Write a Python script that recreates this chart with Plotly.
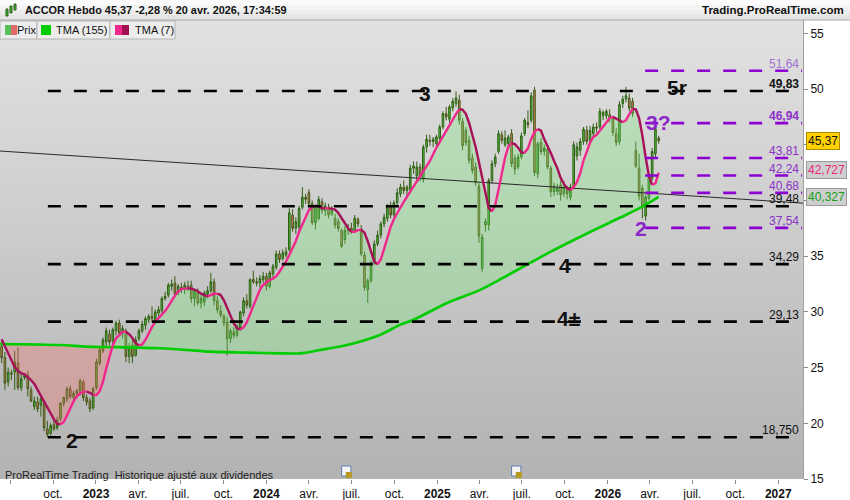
import plotly.graph_objects as go
import pandas as pd

# ---------------- data ----------------
first_week = "2022-06-13"
warmup_close = [29.0, 28.6, 28.0, 27.6, 27.0, 26.6]

open_ = [26.9,25.9,23.7,24.4,24.6,25.4,23.2,24.1,24.3,23.0,21.5,21.9,21.6,21.8,19.5,19.1,19.9,19.6,20.4,21.8,
         22.2,23.1,22.3,22.7,22.9,23.7,22.3,22.0,21.4,23.2,25.4,26.5,27.3,28.0,27.4,28.3,29.0,28.1,28.3,26.0,
         27.0,26.1,27.6,28.3,28.8,29.3,29.6,29.3,29.9,30.1,31.2,31.5,32.3,32.6,31.7,32.2,32.0,32.3,32.4,31.2,
         31.8,30.8,30.9,31.6,31.9,32.7,31.0,30.1,29.6,29.1,27.6,28.2,27.9,28.6,29.9,31.0,30.5,32.9,32.7,32.6,
         32.9,33.2,32.3,33.4,34.0,35.2,34.8,35.1,35.6,38.7,37.5,37.6,39.4,40.3,40.7,39.7,38.0,38.4,39.9,39.1,
         39.3,38.8,38.4,38.1,37.3,36.5,37.3,37.5,37.3,38.3,37.4,35.1,32.0,32.8,34.4,36.1,36.9,37.9,38.4,39.4,
         38.7,39.8,40.6,41.2,40.9,41.0,42.9,42.2,43.0,41.9,44.8,45.4,45.3,45.1,45.6,46.6,47.8,47.3,48.3,48.7,
         49.0,47.1,46.3,45.4,43.8,43.0,41.3,33.9,37.8,37.8,41.8,43.3,44.4,45.9,45.0,45.1,46.0,43.8,43.0,43.9,
         46.0,47.0,47.2,49.9,42.4,45.2,44.4,44.6,42.9,40.8,40.8,41.4,40.6,41.0,40.3,41.2,44.0,44.5,45.3,46.3,
         45.4,46.0,46.6,46.6,47.6,47.6,47.7,47.4,46.0,45.3,48.7,49.1,49.2,48.9,44.5,42.9,41.1,38.6,40.2,42.0,
         44.2,45.6]
high_ = [27.4,26.4,25.0,24.8,26.5,26.8,24.6,24.5,24.7,23.3,22.4,22.4,22.5,22.0,20.2,20.0,20.3,20.6,21.9,22.4,
         23.3,23.4,22.9,23.1,24.0,23.9,22.6,22.3,23.3,25.8,26.8,27.7,28.6,28.4,28.6,29.2,29.3,28.8,28.5,27.2,
         27.5,27.8,28.5,29.2,29.6,29.8,30.5,30.2,30.5,31.4,31.8,32.6,32.9,33.2,32.5,32.6,32.7,32.8,32.8,32.0,
         32.1,31.5,31.9,32.3,33.5,33.0,31.4,30.6,29.8,29.5,28.5,28.6,28.9,30.1,31.3,31.6,33.0,33.7,33.1,33.3,
         33.6,33.5,33.7,34.3,35.5,35.5,35.6,35.8,39.3,39.2,38.5,39.5,41.2,40.6,41.0,40.0,39.6,40.4,40.2,39.8,
         39.7,39.5,38.8,38.4,37.5,37.7,37.9,38.0,38.7,38.5,37.8,35.4,33.0,34.6,36.4,37.3,38.1,38.8,39.7,39.9,
         40.0,41.1,41.5,41.8,41.4,43.2,43.5,43.5,43.3,45.0,45.9,45.9,45.7,45.9,46.8,48.0,48.4,48.6,49.2,49.8,
         49.5,47.4,46.6,45.8,44.2,43.4,41.6,37.0,38.4,42.0,43.6,44.2,46.3,46.2,46.3,45.9,46.4,44.1,44.2,46.1,
         47.4,48.1,49.7,50.2,45.3,45.6,45.0,44.9,43.1,41.6,41.5,41.8,41.7,41.3,41.5,45.3,45.2,45.6,46.6,46.7,
         46.7,46.9,47.0,48.3,48.1,48.2,48.2,47.6,46.5,48.9,49.4,50.2,49.6,49.2,45.3,44.2,41.4,40.5,42.3,44.7,
         46.5,45.8]
low_ = [25.4,23.0,23.3,23.9,23.0,23.0,22.9,23.9,22.4,21.9,21.2,21.0,20.6,19.3,18.75,18.9,19.3,19.4,20.2,21.5,
        21.9,22.2,21.8,22.3,22.5,22.0,21.6,21.0,21.2,23.0,25.2,26.3,26.9,27.0,27.0,27.9,27.9,27.6,25.5,25.4,
        25.4,26.0,27.4,28.1,28.4,29.0,29.1,28.9,29.6,29.9,31.0,31.3,31.9,31.3,31.5,31.7,31.6,31.9,30.8,30.5,
        30.6,30.3,30.5,31.2,31.7,30.6,29.9,29.5,28.7,26.1,27.2,27.6,27.7,28.3,29.6,30.3,30.3,32.5,32.3,32.2,
        32.6,31.9,32.1,33.1,33.8,34.4,34.6,34.9,35.4,37.2,37.0,37.3,39.2,39.7,39.5,37.8,37.4,38.2,38.8,38.6,
        38.4,38.6,37.5,37.2,35.7,36.1,36.9,37.0,37.1,37.6,35.0,31.9,30.8,32.6,34.2,35.9,36.6,37.6,38.1,38.4,
        38.5,39.6,40.3,40.6,40.4,40.8,42.4,41.8,41.7,41.6,44.3,44.9,44.8,44.9,45.4,46.4,47.2,47.0,48.0,48.4,
        46.8,44.5,44.9,43.3,42.4,41.3,36.2,33.6,37.2,37.3,41.5,43.0,44.2,45.1,44.8,44.7,43.0,42.3,42.8,43.7,
        45.8,46.5,47.0,42.2,42.0,44.1,44.0,42.8,40.3,40.4,40.5,40.0,40.3,40.1,40.0,41.0,43.6,44.0,45.0,45.0,
        45.2,45.7,46.1,46.4,47.2,47.3,47.0,45.8,44.9,45.0,48.3,48.8,48.0,47.5,42.9,40.0,38.4,38.2,40.0,41.8,
        43.9,45.1]
close_ = [25.9,23.6,24.6,24.5,25.5,23.2,24.0,24.3,23.1,22.0,22.0,21.3,22.2,19.6,19.0,19.8,19.5,20.3,21.8,22.3,
          23.1,22.4,22.7,22.9,23.8,22.3,21.9,21.3,23.1,25.5,26.6,27.5,28.3,27.3,28.4,29.0,28.1,28.5,26.0,26.9,
          26.0,27.5,28.3,28.9,29.4,29.6,29.4,30.0,30.2,31.2,31.4,32.4,32.5,31.6,32.3,32.0,32.4,32.0,31.2,31.9,
          30.8,31.2,31.7,31.9,32.7,31.0,30.2,29.7,29.0,27.6,28.3,27.9,28.7,30.0,31.0,30.6,32.9,32.7,32.6,33.0,
          33.2,32.3,33.5,34.1,35.2,34.7,35.3,35.4,38.9,37.5,38.1,39.3,40.3,40.1,39.7,38.0,39.3,40.1,39.1,39.5,
          38.7,39.1,37.8,37.5,35.9,37.3,37.5,37.2,38.4,37.9,35.2,32.2,32.8,34.4,36.1,36.9,37.9,38.5,39.4,38.7,
          39.8,40.7,41.2,40.9,41.2,42.9,43.1,43.0,42.0,44.8,45.5,45.3,45.5,45.7,46.6,47.8,47.5,48.4,48.9,49.2,
          47.2,44.9,45.2,43.6,42.7,41.6,36.8,36.7,38.1,41.8,43.3,43.9,46.0,45.4,45.6,45.7,43.3,42.8,43.9,45.8,
          47.2,46.8,49.4,42.5,45.1,44.4,44.7,43.0,40.8,41.3,41.1,40.5,41.2,40.6,41.2,45.0,44.8,45.3,46.4,45.3,
          46.3,46.6,46.5,48.0,47.9,48.0,47.4,46.1,45.2,48.6,49.1,49.4,48.3,47.8,43.1,40.4,39.4,40.3,42.1,44.4,
          46.43,45.37]

# TMA(155)
tma155_dates = ["2022-06-09", "2022-10-16", "2022-12-13", "2023-02-06", "2023-05-18", "2023-07-15",
                "2023-09-02", "2023-11-20", "2024-01-30", "2024-03-13", "2024-04-25", "2024-06-22",
                "2024-08-31", "2024-10-13", "2024-11-10", "2025-01-22", "2025-04-03", "2025-05-13",
                "2025-08-31", "2025-11-24", "2026-01-28", "2026-03-11", "2026-04-20"]
tma155_vals = [27.12, 27.03, 26.88, 26.84, 26.73, 26.58, 26.43, 26.34, 26.28, 26.28, 26.58, 27.03,
               27.93, 28.83, 29.27, 30.80, 31.97, 32.86, 35.38, 37.17, 38.47, 39.33, 40.33]
cross_date = "2023-02-06"

# horizontal levels
black_levels = [49.83, 39.48, 34.29, 29.13, 18.75]
black_labels = ["49,83", "39,48", "34,29", "29,13", "18,750"]
black_span = ["2022-09-20", "2027-02-06"]
purple_levels = [51.64, 46.94, 43.81, 42.24, 40.68, 37.54]
purple_labels = ["51,64", "46,94", "43,81", "42,24", "40,68", "37,54"]
purple_span = ["2026-03-22", "2027-02-21"]

# long trend line
trend_dates = ["2022-06-09", "2027-02-23"]
trend_vals = [44.44, 39.76]

# wave labels
wave_text = ["3", "5r", "4", "4±", "2"]
wave_dates = ["2024-12-05", "2026-05-29", "2025-10-02", "2025-10-09", "2022-11-11"]
wave_vals = [49.6, 50.1, 34.12, 29.45, 18.42]
pwave_text = ["3?", "2"]
pwave_dates = ["2026-04-19", "2026-03-13"]
pwave_vals = [47.0, 37.53]

# axis ticks (40 and 45 are hidden behind the value boxes in the original)
x_tickvals = ["2022-07-01", "2022-10-01", "2023-01-01", "2023-04-01", "2023-07-01", "2023-10-01",
              "2024-01-01", "2024-04-01", "2024-07-01", "2024-10-01", "2025-01-01", "2025-04-01",
              "2025-07-01", "2025-10-01", "2026-01-01", "2026-04-01", "2026-07-01", "2026-10-01",
              "2027-01-01"]
x_ticktext = ["", "oct.", "<b>2023</b>", "avr.", "juil.", "oct.", "<b>2024</b>", "avr.", "juil.", "oct.",
              "<b>2025</b>", "avr.", "juil.", "oct.", "<b>2026</b>", "avr.", "juil.", "oct.", "<b>2027</b>"]
y_tickvals = [15, 20, 25, 30, 35, 40, 45, 50, 55]
y_ticktext = ["15", "20", "25", "30", "35", "", "", "50", "55"]

last_price = 45.37
last_price_txt = "45,37"
last_tma7_txt = "42,727"
last_tma155_txt = "40,327"
last_tma7 = 42.727
last_tma155 = 40.327
dividend_dates = ["2024-06-10", "2025-06-09"]

# ---------------- derived ----------------
dates = pd.date_range(first_week, periods=len(close_), freq="7D")
s = pd.Series(warmup_close + close_)
tma7 = s.rolling(4).mean().rolling(4).mean().iloc[len(warmup_close):].to_numpy()

g_dates = pd.to_datetime(tma155_dates)
cross = pd.Timestamp(cross_date)

FONT = "Arial, Liberation Sans, sans-serif"
PLOT_L, PLOT_R, PLOT_T, PLOT_B = 0, 803, 20, 479


def px(x):
    return (x - PLOT_L) / (PLOT_R - PLOT_L)


def py(y):
    return (PLOT_B - y) / (PLOT_B - PLOT_T)


fig = go.Figure()

# fills between TMA(7) and TMA(155)
mp = dates < cross
mg = g_dates <= cross
red_x = list(dates[mp]) + list(g_dates[mg][::-1])
red_y = list(tma7[mp]) + list(pd.Series(tma155_vals)[mg][::-1])
fig.add_trace(go.Scatter(x=red_x, y=red_y, fill="toself", fillcolor="rgba(255,105,105,0.30)",
                         line=dict(width=0), mode="lines", hoverinfo="skip"))
mp2 = dates >= cross
mg2 = g_dates >= cross
grn_x = list(dates[mp2]) + list(g_dates[mg2][::-1])
grn_y = list(tma7[mp2]) + list(pd.Series(tma155_vals)[mg2][::-1])
fig.add_trace(go.Scatter(x=grn_x, y=grn_y, fill="toself", fillcolor="rgba(115,235,115,0.30)",
                         line=dict(width=0, shape="spline"), mode="lines", hoverinfo="skip"))

# TMA 155
fig.add_trace(go.Scatter(x=g_dates, y=tma155_vals, mode="lines",
                         line=dict(color="#00cc00", width=2.6, shape="spline", smoothing=0.8),
                         hoverinfo="skip"))

# candles
fig.add_trace(go.Candlestick(
    x=dates, open=open_, high=high_, low=low_, close=close_,
    increasing=dict(line=dict(color="#2f6012", width=1), fillcolor="#4fc040"),
    decreasing=dict(line=dict(color="#3c5a14", width=1), fillcolor="#e87a62"),
    whiskerwidth=0, hoverinfo="skip"))

# trend line
fig.add_trace(go.Scatter(x=trend_dates, y=trend_vals, mode="lines", line=dict(color="#2a2a2a", width=1),
                         hoverinfo="skip"))

# TMA 7 coloured by slope
rx, ry, fx, fy = [], [], [], []
for k in range(len(tma7) - 1):
    xs, ys = (rx, ry) if tma7[k + 1] >= tma7[k] else (fx, fy)
    if xs and xs[-1] is not None and xs[-1] == dates[k]:
        xs.append(dates[k + 1]); ys.append(tma7[k + 1])
    else:
        if xs:
            xs.append(None); ys.append(None)
        xs += [dates[k], dates[k + 1]]; ys += [tma7[k], tma7[k + 1]]
fig.add_trace(go.Scatter(x=fx, y=fy, mode="lines", line=dict(color="#a8105a", width=2.4), hoverinfo="skip"))
fig.add_trace(go.Scatter(x=rx, y=ry, mode="lines", line=dict(color="#f0288c", width=2.4), hoverinfo="skip"))

# level lines
for lv in black_levels:
    fig.add_trace(go.Scatter(x=black_span, y=[lv, lv], mode="lines",
                             line=dict(color="black", width=2.6, dash="13px,13px"), hoverinfo="skip"))
for lv in purple_levels:
    fig.add_trace(go.Scatter(x=purple_span, y=[lv, lv], mode="lines",
                             line=dict(color="#8c00d2", width=2.6, dash="13px,13px"), hoverinfo="skip"))

ann = []
for lv, t in zip(black_levels, black_labels):
    ann.append(dict(xref="paper", yref="y", x=px(801), y=lv, xanchor="right", yanchor="middle", yshift=7,
                    text=("<b>%s</b>" % t) if lv == black_levels[0] else t, showarrow=False,
                    font=dict(family=FONT, size=12, color="#111111")))
for lv, t in zip(purple_levels, purple_labels):
    col = "#a070d4" if lv == purple_levels[0] else "#8c32c8"
    ann.append(dict(xref="paper", yref="y", x=px(801), y=lv, xanchor="right", yanchor="middle", yshift=7,
                    text=("<b>%s</b>" % t) if lv == purple_levels[1] else t, showarrow=False,
                    font=dict(family=FONT, size=12, color=col)))
for t, d, v in zip(wave_text, wave_dates, wave_vals):
    ann.append(dict(xref="x", yref="y", x=d, y=v, text="<b>%s</b>" % t, showarrow=False,
                    font=dict(family=FONT, size=21, color="#111111")))
for t, d, v in zip(pwave_text, pwave_dates, pwave_vals):
    ann.append(dict(xref="x", yref="y", x=d, y=v, text="<b>%s</b>" % t, showarrow=False,
                    font=dict(family=FONT, size=21, color="#8c28c8")))

# right value boxes
ann.append(dict(xref="paper", yref="y", x=px(806), y=last_price, xanchor="left", yanchor="middle",
                text=last_price_txt, showarrow=False, bgcolor="#ffd200", bordercolor="#a88a00", borderwidth=1,
                borderpad=1, font=dict(family=FONT, size=12, color="#111111")))
ann.append(dict(xref="paper", yref="y", x=px(806), y=last_tma7, xanchor="left", yanchor="middle",
                text=last_tma7_txt, showarrow=False, bgcolor="#cfcfcf", bordercolor="#9a9a9a", borderwidth=1,
                borderpad=1, font=dict(family=FONT, size=12, color="#e8287c")))
ann.append(dict(xref="paper", yref="y", x=px(806), y=last_tma155, xanchor="left", yanchor="middle",
                text=last_tma155_txt, showarrow=False, bgcolor="#cfcfcf", bordercolor="#9a9a9a", borderwidth=1,
                borderpad=1, font=dict(family=FONT, size=12, color="#14a014")))

# header texts
ann.append(dict(xref="paper", yref="paper", x=px(23), y=py(10), xanchor="left", yanchor="middle",
                text="<b>ACCOR Hebdo 45,37 -2,28 % 20 avr. 2026, 17:34:59</b>", showarrow=False,
                font=dict(family=FONT, size=10.9, color="#111111")))
ann.append(dict(xref="paper", yref="paper", x=px(846), y=py(10), xanchor="right", yanchor="middle",
                text="<b>Trading.ProRealTime.com</b>", showarrow=False,
                font=dict(family=FONT, size=11.5, color="#111111")))
for t, x0 in [("Prix", 15), ("TMA (155)", 54), ("TMA (7)", 133)]:
    ann.append(dict(xref="paper", yref="paper", x=px(x0), y=py(30), xanchor="left", yanchor="middle",
                    text=t, showarrow=False, font=dict(family=FONT, size=11, color="#111111")))
ann.append(dict(xref="paper", yref="paper", x=px(3), y=py(475), xanchor="left", yanchor="middle",
                text="ProRealTime Trading  Historique ajusté aux dividendes", showarrow=False,
                font=dict(family=FONT, size=11, color="#222222")))

shapes = []
# gradient plot background
n_b = 46
top_c, bot_c = (226, 226, 226), (178, 178, 178)
for b in range(n_b):
    f = (b + 0.5) / n_b
    c = tuple(round(top_c[j] + (bot_c[j] - top_c[j]) * f) for j in range(3))
    shapes.append(dict(type="rect", xref="paper", yref="paper", x0=0, x1=1,
                       y0=1 - (b + 1) / n_b, y1=1 - b / n_b + 0.003,
                       fillcolor="rgb(%d,%d,%d)" % c, line=dict(width=0), layer="below"))
# header bar
for b, col in enumerate(["#fbfbfb", "#f4f4f4", "#ececec", "#e4e4e4"]):
    shapes.append(dict(type="rect", xref="paper", yref="paper", x0=0, x1=px(850),
                       y0=py(5 * (b + 1)), y1=py(5 * b), fillcolor=col, line=dict(width=0), layer="above"))
shapes.append(dict(type="line", xref="paper", yref="paper", x0=0, x1=px(850), y0=py(20), y1=py(20),
                   line=dict(color="#a8a8a8", width=1)))
# header icon
for (a, b_, c_, d_) in [(6, 9, 8, 16), (10, 6, 12, 13), (14, 4, 16, 10)]:
    shapes.append(dict(type="rect", xref="paper", yref="paper", x0=px(a), x1=px(c_), y0=py(d_), y1=py(b_),
                       fillcolor="#3cb43c", line=dict(color="#2f6012", width=1), layer="above"))
# legend boxes
for (a, c_) in [(0, 37), (37, 110), (110, 175)]:
    shapes.append(dict(type="rect", xref="paper", yref="paper", x0=px(a), x1=px(c_), y0=py(39), y1=py(21),
                       fillcolor="#ededed", line=dict(color="#b4b4b4", width=1), layer="above"))
legend_icons = [(5, 11, "#58c058"), (11, 17, "#e06a6a"), (41, 51, "#00cc00"),
                (115, 122, "#f0288c"), (122, 129, "#a0104f")]
for (a, c_, col) in legend_icons:
    shapes.append(dict(type="rect", xref="paper", yref="paper", x0=px(a), x1=px(c_), y0=py(35), y1=py(25),
                       fillcolor=col, line=dict(width=0), layer="above"))
# dividend icons
for d in dividend_dates:
    shapes.append(dict(type="rect", xref="x", yref="paper", x0=d, x1=pd.Timestamp(d) + pd.Timedelta(days=20),
                       y0=py(476), y1=py(466), fillcolor="#f4f4f4", line=dict(color="#5a7fb0", width=1),
                       layer="above"))
    shapes.append(dict(type="rect", xref="x", yref="paper", x0=pd.Timestamp(d) + pd.Timedelta(days=9),
                       x1=pd.Timestamp(d) + pd.Timedelta(days=22), y0=py(478), y1=py(472),
                       fillcolor="#b89a20", line=dict(width=0), layer="above"))

fig.update_layout(
    width=850, height=500, margin=dict(l=0, r=47, t=20, b=21),
    paper_bgcolor="white", plot_bgcolor="#c8c8c8", showlegend=False, hovermode=False,
    font=dict(family=FONT, size=12, color="#111111"),
    annotations=ann, shapes=shapes,
    xaxis=dict(type="date", range=["2022-06-09 12:00", "2027-02-23"], rangeslider=dict(visible=False),
               tickmode="array", tickvals=x_tickvals, ticktext=x_ticktext, ticks="outside", ticklen=4,
               tickcolor="#888888", showgrid=False, zeroline=False, showline=False,
               tickfont=dict(family=FONT, size=12, color="#111111")),
    yaxis=dict(side="right", range=[15.0, 56.2], tickmode="array", tickvals=y_tickvals, ticktext=y_ticktext,
               ticks="outside", ticklen=4, tickcolor="#888888", showgrid=False, zeroline=False,
               showline=True, linecolor="#a0a0a0", linewidth=1,
               tickfont=dict(family=FONT, size=12, color="#111111")),
)

fig.write_html("out.html", config={"displayModeBar": False},
               post_script="document.body.style.margin='0';document.body.style.overflow='hidden';")
